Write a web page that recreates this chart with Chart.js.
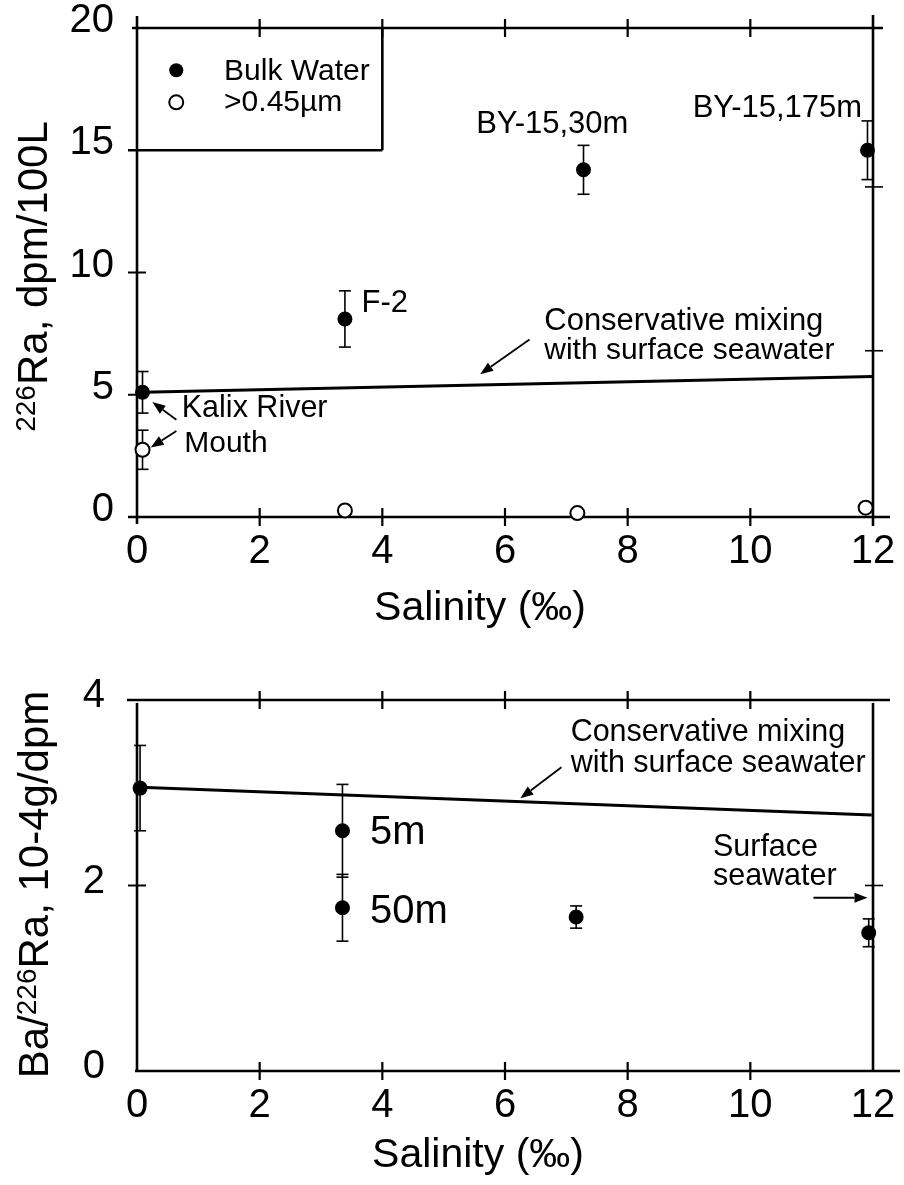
<!DOCTYPE html>
<html lang="en">
<head>
  <meta charset="UTF-8">
  <title>226Ra and Ba/226Ra vs salinity</title>
  <script src="https://cdn.jsdelivr.net/npm/chart.js"></script>
  <style>
    body { margin: 0; background: #fff; }
    #wrap { position: relative; width: 904px; height: 1185px; }
    canvas { position: absolute; left: 0; }
    #topChart { top: 0; }
    #botChart { top: 640px; }
  </style>
</head>
<body>
  <div id="wrap">
    <canvas id="topChart" width="904" height="640"></canvas>
    <canvas id="botChart" width="904" height="545"></canvas>
  </div>

  <script>
    // top panel: 226Ra, dpm/100L
    const salBulk = [0.09, 3.39, 7.28, 11.91];
    const raBulk = [5.1, 8.1, 14.2, 15.0];
    const raBulkErr = [0.85, 1.15, 1.0, 1.2];
    const salPart = [0.09, 3.39, 7.18, 11.88];
    const raPart = [2.75, 0.27, 0.16, 0.38];
    const raPartErr = [0.8, 0, 0, 0];
    const mixRaSal = [0.09, 12];
    const mixRa = [5.1, 5.75];

    // bottom panel: Ba/226Ra, 10-4 g/dpm
    const salBa = [0.05, 3.35, 3.35, 7.16, 11.93];
    const baRa = [3.05, 2.59, 1.76, 1.66, 1.49];
    const baRaErr = [0.46, 0.5, 0.36, 0.12, 0.15];
    const mixBaSal = [0.05, 11.98];
    const mixBa = [3.06, 2.76];

    const xTicks = [0, 2, 4, 6, 8, 10, 12];
    const raTicks = [0, 5, 10, 15, 20];
    const raRightTicks = [6.8, 13.5];
    const baTicks = [0, 2, 4];
    const baRightTicks = [2];

    const FONT = '"Liberation Sans", Arial, Helvetica, sans-serif';
    Chart.defaults.font.family = FONT;
    Chart.defaults.color = '#000';

    function pts(xs, ys) { return xs.map((x, i) => ({ x: x, y: ys[i] })); }

    function seg(ctx, x1, y1, x2, y2, w) {
      ctx.lineWidth = w;
      ctx.beginPath();
      ctx.moveTo(x1, y1);
      ctx.lineTo(x2, y2);
      ctx.stroke();
    }

    function arrow(ctx, x1, y1, x2, y2) {
      const ang = Math.atan2(y2 - y1, x2 - x1);
      const len = 13, half = 5;
      const bx = x2 - len * Math.cos(ang), by = y2 - len * Math.sin(ang);
      seg(ctx, x1, y1, bx, by, 1.8);
      ctx.beginPath();
      ctx.moveTo(x2, y2);
      ctx.lineTo(bx + half * Math.sin(ang), by - half * Math.cos(ang));
      ctx.lineTo(bx - half * Math.sin(ang), by + half * Math.cos(ang));
      ctx.closePath();
      ctx.fill();
    }

    function text(ctx, s, x, y, size) {
      ctx.font = size + 'px ' + FONT;
      ctx.textAlign = 'left';
      ctx.textBaseline = 'alphabetic';
      ctx.fillText(s, x, y);
    }

    // rotated axis title with a superscript part
    function yTitle(ctx, parts, bx, cy) {
      ctx.save();
      ctx.translate(bx, cy);
      ctx.rotate(-Math.PI / 2);
      let total = 0;
      parts.forEach(p => { ctx.font = p.size + 'px ' + FONT; total += ctx.measureText(p.t).width; });
      let x = -total / 2;
      ctx.textBaseline = 'alphabetic';
      ctx.textAlign = 'left';
      parts.forEach(p => {
        ctx.font = p.size + 'px ' + FONT;
        ctx.fillText(p.t, x, -(p.rise || 0));
        x += ctx.measureText(p.t).width;
      });
      ctx.restore();
    }

    const errorBars = {
      id: 'errorBars',
      beforeDatasetsDraw(chart) {
        const ctx = chart.ctx, xs = chart.scales.x, ys = chart.scales.y;
        ctx.save();
        ctx.strokeStyle = '#000';
        chart.data.datasets.forEach(ds => {
          if (!ds.errors) return;
          ds.data.forEach((p, i) => {
            const e = ds.errors[i];
            if (!e) return;
            const px = xs.getPixelForValue(p.x);
            const y1 = ys.getPixelForValue(p.y + e), y2 = ys.getPixelForValue(p.y - e);
            seg(ctx, px, y1, px, y2, 1.6);
            seg(ctx, px - 6, y1, px + 6, y1, 1.6);
            seg(ctx, px - 6, y2, px + 6, y2, 1.6);
          });
        });
        ctx.restore();
      }
    };

    const decor = {
      id: 'decor',
      beforeDatasetsDraw(chart, args, opts) {
        const ctx = chart.ctx, xs = chart.scales.x, ys = chart.scales.y, a = chart.chartArea;
        const X = v => xs.getPixelForValue(v), Y = v => ys.getPixelForValue(v);
        const lw = 2.6, t = 9;
        ctx.save();
        ctx.strokeStyle = '#000';
        ctx.fillStyle = '#000';
        const f = opts.frame;
        seg(ctx, a.left - f.topL, a.top, a.right + f.topR, a.top, lw);
        seg(ctx, a.left - f.botL, a.bottom, a.right + f.botR, a.bottom, lw);
        seg(ctx, a.left, a.top - f.leftT, a.left, a.bottom + f.leftB, lw);
        seg(ctx, a.right, a.top - f.rightT, a.right, a.bottom + f.rightB, lw);
        xTicks.slice(1, -1).forEach(v => {
          seg(ctx, X(v), a.top - t, X(v), a.top + t, 2.2);
          seg(ctx, X(v), a.bottom - t, X(v), a.bottom + t, 2.2);
        });
        opts.leftTicks.forEach(v => seg(ctx, a.left - t, Y(v), a.left + t, Y(v), 2));
        opts.rightTicks.forEach(v => seg(ctx, a.right - 8, Y(v), a.right + 10, Y(v), 1.6));
        if (opts.legendBox) {
          const b = opts.legendBox;
          seg(ctx, X(b.x), a.top, X(b.x), Y(b.y), lw);
          seg(ctx, a.left - t, Y(b.y), X(b.x), Y(b.y), lw);
        }
        ctx.restore();
      },
      afterDraw(chart, args, opts) {
        const ctx = chart.ctx, xs = chart.scales.x, ys = chart.scales.y;
        const X = v => xs.getPixelForValue(v), Y = v => ys.getPixelForValue(v);
        ctx.save();
        ctx.fillStyle = '#000';
        ctx.strokeStyle = '#000';
        opts.labels.forEach(l => text(ctx, l.t, X(l.x), Y(l.y), l.size));
        opts.arrows.forEach(r => arrow(ctx, X(r[0]), Y(r[1]), X(r[2]), Y(r[3])));
        if (opts.legend) {
          opts.legend.forEach(it => {
            ctx.beginPath();
            ctx.arc(X(it.mx), Y(it.my), 7, 0, Math.PI * 2);
            if (it.filled) { ctx.fill(); } else { ctx.fillStyle = '#fff'; ctx.fill(); ctx.lineWidth = 2; ctx.stroke(); ctx.fillStyle = '#000'; }
            text(ctx, it.t, X(it.tx), Y(it.ty), 30);
          });
        }
        yTitle(ctx, opts.yTitle.parts, opts.yTitle.x, (chart.chartArea.top + chart.chartArea.bottom) / 2 + opts.yTitle.dy);
        ctx.font = '41px ' + FONT;
        ctx.textAlign = 'center';
        ctx.textBaseline = 'alphabetic';
        ctx.fillText('Salinity (\u2030)', opts.xTitle.x, opts.xTitle.y);
        ctx.restore();
      }
    };

    function noPad(s) {
      s.paddingTop = 0; s.paddingBottom = 0; s.paddingLeft = 0; s.paddingRight = 0;
    }

    function options(yMax, yTicks, yPad, yOff, xPad, xAxisH, padTop, pluginOpts) {
      return {
        responsive: false,
        animation: false,
        events: [],
        layout: { padding: { top: padTop, right: 31, left: 0, bottom: 0 } },
        plugins: { legend: { display: false }, tooltip: { enabled: false }, decor: pluginOpts },
        scales: {
          x: {
            type: 'linear', min: 0, max: 12,
            afterBuildTicks: s => { s.ticks = xTicks.map(v => ({ value: v })); },
            afterFit: s => { s.height = xAxisH; noPad(s); },
            grid: { display: false, drawTicks: false },
            border: { display: false },
            ticks: { font: { size: 40 }, padding: xPad, maxRotation: 0, autoSkip: false }
          },
          y: {
            type: 'linear', min: 0, max: yMax,
            afterBuildTicks: s => { s.ticks = yTicks.map(v => ({ value: v })); },
            afterFit: s => { s.width = 137; noPad(s); },
            grid: { display: false, drawTicks: false },
            border: { display: false },
            ticks: { font: { size: 40 }, padding: yPad, labelOffset: yOff }
          }
        }
      };
    }

    new Chart(document.getElementById('topChart'), {
      type: 'scatter',
      plugins: [errorBars, decor],
      data: {
        datasets: [
          { type: 'line', data: pts(mixRaSal, mixRa), borderColor: '#000', borderWidth: 3, pointRadius: 0, fill: false, clip: false },
          { data: pts(salBulk, raBulk), errors: raBulkErr, pointRadius: 7.5, backgroundColor: '#000', borderColor: '#000', borderWidth: 0, clip: false },
          { data: pts(salPart, raPart), errors: raPartErr, pointRadius: 7, backgroundColor: '#fff', borderColor: '#000', borderWidth: 2, clip: false }
        ]
      },
      options: options(20, raTicks, 23, -7, 11, 123, 28, {
        frame: { topL: 5, topR: 10, botL: 9, botR: 17, leftT: 12, leftB: 7, rightT: 13, rightB: 9 },
        leftTicks: [5, 10],
        rightTicks: raRightTicks,
        legendBox: { x: 4, y: 15 },
        legend: [
          { filled: true, mx: 0.64, my: 18.27, t: 'Bulk Water', tx: 1.42, ty: 17.86 },
          { filled: false, mx: 0.64, my: 16.96, t: '>0.45\u00b5m', tx: 1.42, ty: 16.61 }
        ],
        labels: [
          { t: 'BY-15,30m', x: 5.53, y: 15.70, size: 31 },
          { t: 'BY-15,175m', x: 9.06, y: 16.36, size: 31 },
          { t: 'F-2', x: 3.66, y: 8.38, size: 31 },
          { t: 'Conservative mixing', x: 6.64, y: 7.64, size: 31 },
          { t: 'with surface seawater', x: 6.64, y: 6.45, size: 30 },
          { t: 'Kalix River', x: 0.73, y: 4.08, size: 30.5 },
          { t: 'Mouth', x: 0.77, y: 2.66, size: 30 }
        ],
        arrows: [
          [6.40, 7.26, 5.595, 5.84],
          [0.642, 3.98, 0.25, 4.70],
          [0.642, 3.52, 0.224, 2.84]
        ],
        yTitle: { x: 47, dy: 4, parts: [{ t: '226', size: 28, rise: 12 }, { t: 'Ra, dpm/100L', size: 42 }] },
        xTitle: { x: 480, y: 620 }
      })
    });

    new Chart(document.getElementById('botChart'), {
      type: 'scatter',
      plugins: [errorBars, decor],
      data: {
        datasets: [
          { type: 'line', data: pts(mixBaSal, mixBa), borderColor: '#000', borderWidth: 3, pointRadius: 0, fill: false, clip: false },
          { data: pts(salBa, baRa), errors: baRaErr, pointRadius: 7.5, backgroundColor: '#000', borderColor: '#000', borderWidth: 0, clip: false }
        ]
      },
      options: options(4, baTicks, 32, -4, 11, 114, 60, {
        frame: { topL: 10, topR: 17, botL: 2, botR: 27, leftT: -3, leftB: 0, rightT: -3, rightB: 0 },
        leftTicks: [2],
        rightTicks: baRightTicks,
        legendBox: null,
        legend: null,
        labels: [
          { t: 'Conservative mixing', x: 7.07, y: 3.558, size: 30.5 },
          { t: 'with surface seawater', x: 7.07, y: 3.224, size: 30.5 },
          { t: '5m', x: 3.80, y: 2.447, size: 40 },
          { t: '50m', x: 3.80, y: 1.592, size: 40 },
          { t: 'Surface', x: 9.39, y: 2.318, size: 30.5 },
          { t: 'seawater', x: 9.39, y: 2.005, size: 30.5 }
        ],
        arrows: [
          [6.92, 3.274, 6.25, 2.94],
          [11.03, 1.868, 11.91, 1.868]
        ],
        yTitle: { x: 48, dy: -1, parts: [{ t: 'Ba/', size: 42 }, { t: '226', size: 28, rise: 12 }, { t: 'Ra, 10-4g/dpm', size: 42 }] },
        xTitle: { x: 478, y: 527 }
      })
    });
  </script>
</body>
</html>
